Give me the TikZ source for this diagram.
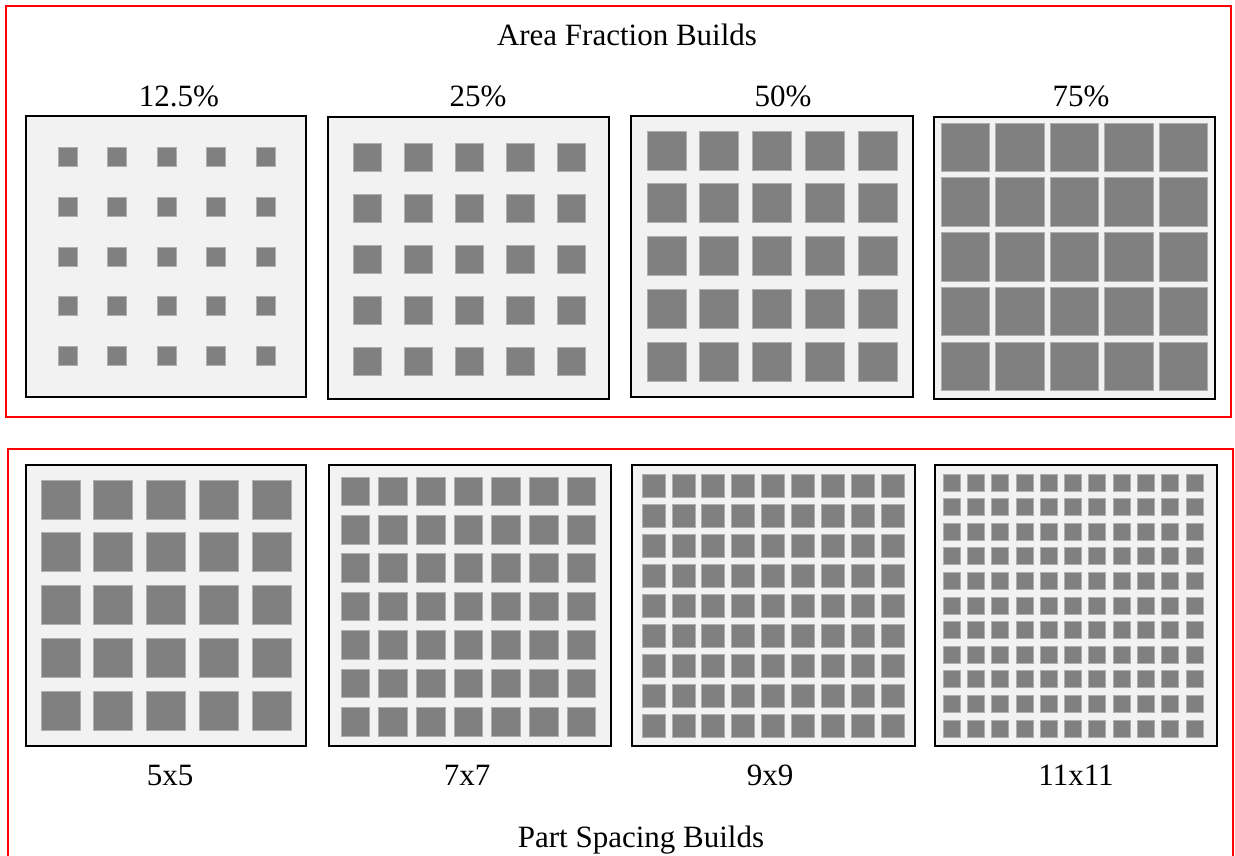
\documentclass[tikz,border=0pt]{standalone}
\usepackage{fontspec}
\setmainfont{Liberation Serif}
\definecolor{framered}{RGB}{255,0,0}
\definecolor{panelfill}{RGB}{242,242,242}
\definecolor{partgray}{RGB}{128,128,128}
\definecolor{partedge}{RGB}{175,175,175}
\tikzset{
  groupframe/.style={draw=framered, line width=2pt},
  plate/.style={draw=black, fill=panelfill, line width=2pt},
  part/.style={fill=partgray, draw=partedge, line width=0.7pt},
  caption/.style={anchor=base, inner sep=0pt, font=\fontsize{31}{37}\selectfont},
}
% \partgrid{n}{x0}{y0}{size}{pitch x}{pitch y}
\newcommand{\partgrid}[6]{%
  \foreach \i in {1,...,#1}{%
    \foreach \j in {1,...,#1}{%
      \pgfmathsetmacro{\px}{#2+(\i-1)*#5}%
      \pgfmathsetmacro{\py}{#3+(\j-1)*#6}%
      \draw[part] (\px,\py) rectangle ++(#4,#4);
    }%
  }%
}
\begin{document}
\begin{tikzpicture}[x=1pt,y=-1pt]
\useasboundingbox (0,0) rectangle (1235,856);

% group frames
\draw[groupframe] (6,6) rectangle (1231,417);
\draw[groupframe] (8,870) -- (8,449) -- (1233,449) -- (1233,870);

% titles
\node[caption] (titleA) at (627,46) {Area Fraction Builds};
\node[caption] (titleB) at (641,847) {Part Spacing Builds};

% area fraction plates
\draw[plate] (26,116) rectangle (306,397);
\partgrid{5}{58}{147.5}{19}{49.5}{49.7}
\draw[plate] (328,117) rectangle (609,399);
\partgrid{5}{353}{143}{28}{51}{51}
\draw[plate] (631,116) rectangle (913,397);
\partgrid{5}{647}{131}{39}{52.75}{52.75}
\draw[plate] (934,117) rectangle (1215,399);
\partgrid{5}{941}{123}{48.5}{54.5}{54.75}

\node[caption] (fa) at (179,107) {12.5\%};
\node[caption] (fb) at (478,107) {25\%};
\node[caption] (fc) at (783,107) {50\%};
\node[caption] (fd) at (1081,107) {75\%};

% part spacing plates
\draw[plate] (26,465) rectangle (306,746);
\partgrid{5}{41}{480}{39}{52.75}{52.75}
\draw[plate] (329,465) rectangle (611,746);
\partgrid{7}{341}{477}{28.5}{37.7}{38.4}
\draw[plate] (632,465) rectangle (915,746);
\partgrid{9}{642}{474}{23}{29.9}{30.1}
\draw[plate] (935,465) rectangle (1217,746);
\partgrid{11}{943}{474}{17}{24.3}{24.6}

\node[caption] (sa) at (170,785) {5x5};
\node[caption] (sb) at (467,785) {7x7};
\node[caption] (sc) at (770,785) {9x9};
\node[caption] (sd) at (1076,785) {11x11};
\end{tikzpicture}
\end{document}
